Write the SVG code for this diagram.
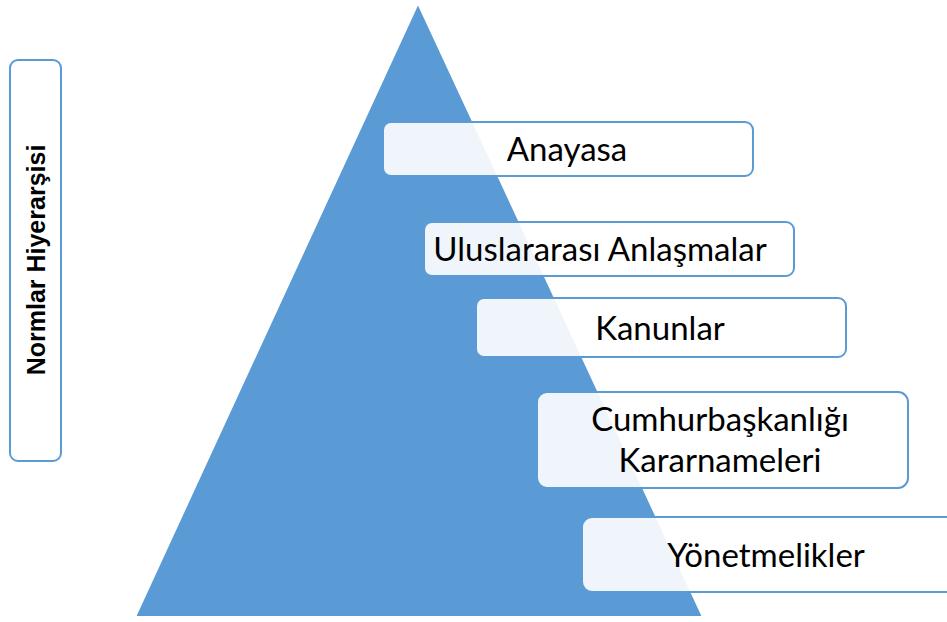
<svg xmlns="http://www.w3.org/2000/svg" width="947" height="622" viewBox="0 0 947 622">
<style>
.box{fill:#ffffff;fill-opacity:0.9;stroke:#5b9bd5;stroke-width:2}
.t{font-family:Lato,"Liberation Sans",sans-serif;font-size:33px;fill:#000;text-anchor:middle}
.side{font-family:"Liberation Sans",Arial,sans-serif;font-size:25px;font-weight:bold;fill:#000;text-anchor:middle}
</style>
<rect width="947" height="622" fill="#ffffff"/>
<g id="pyramid">
<polygon points="418,3 135,617 703,617" fill="#5b9bd5" stroke="#ffffff" stroke-width="2"/>
</g>
<g id="side-label">
<rect class="box" x="10" y="60" width="51" height="401" rx="8"/>
<text class="side" transform="translate(45,260) rotate(-90)">Normlar Hiyerarşisi</text>
</g>
<g id="connectors"></g>
<g id="anayasa">
<rect class="box" x="383" y="122" width="370" height="54" rx="8"/>
<text class="t" x="567" y="161">Anayasa</text>
</g>
<g id="uluslararasi">
<rect class="box" x="424" y="222" width="370" height="54" rx="8"/>
<text class="t" x="600" y="261">Uluslararası Anlaşmalar</text>
</g>
<g id="kanunlar">
<rect class="box" x="476" y="298" width="370" height="59" rx="8"/>
<text class="t" x="660" y="340">Kanunlar</text>
</g>
<g id="cbk">
<rect class="box" x="537" y="392" width="371" height="96" rx="10"/>
<text class="t" x="720" y="431">Cumhurbaşkanlığı</text>
<text class="t" x="720" y="472">Kararnameleri</text>
</g>
<g id="yonetmelikler">
<rect class="box" x="582" y="517" width="380" height="75" rx="10"/>
<text class="t" x="766" y="567">Yönetmelikler</text>
</g>
</svg>
